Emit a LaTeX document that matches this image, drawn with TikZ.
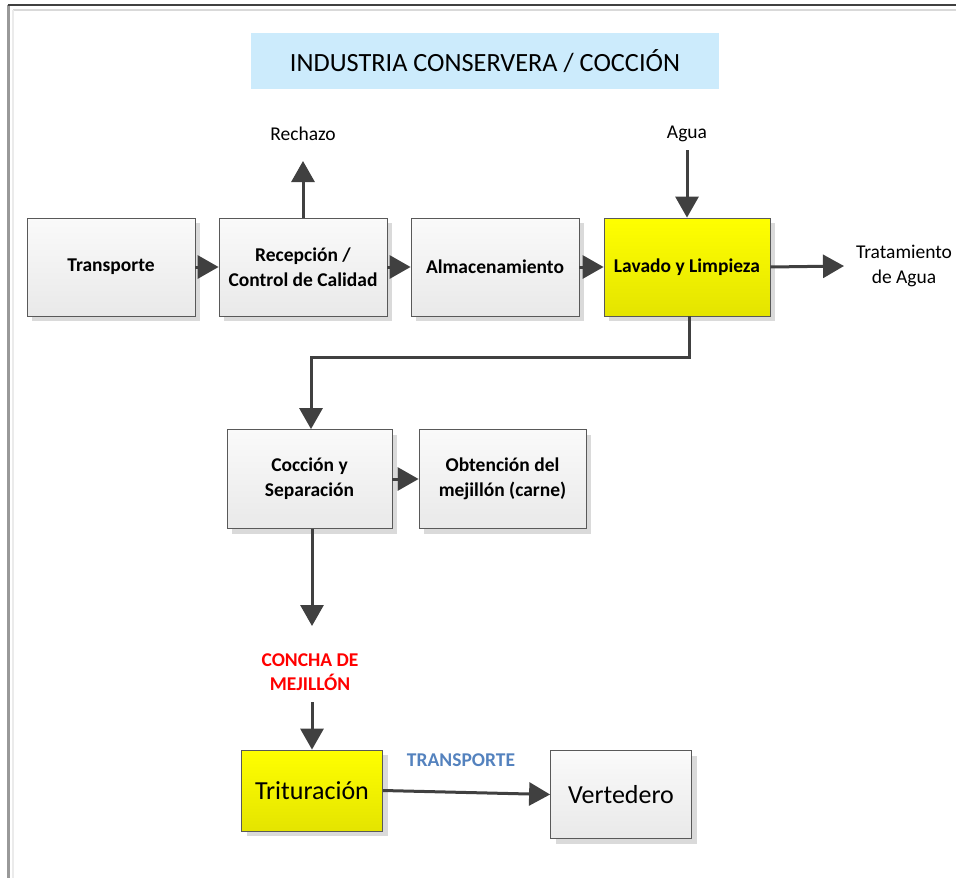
\documentclass[tikz,border=0pt]{standalone}
\usepackage{fontspec}
\setmainfont{Carlito}
\usetikzlibrary{arrows.meta,shadows}
\definecolor{arrc}{HTML}{404040}
\definecolor{edgec}{HTML}{595959}
\definecolor{boxtop}{HTML}{FAFAFA}
\definecolor{boxbot}{HTML}{E9E9E9}
\definecolor{yeltop}{HTML}{FFFF00}
\definecolor{yelbot}{HTML}{E4E400}
\definecolor{titleblue}{HTML}{CCEBFC}
\definecolor{shadowc}{HTML}{DADADA}
\definecolor{conchared}{HTML}{FF0000}
\definecolor{transblue}{HTML}{5482BE}
\tikzset{
  basefont/.style={font=\fontsize{19.5}{25}\selectfont},
  procbox/.style={basefont, draw=edgec, line width=0.8pt, inner sep=0pt, align=center,
    top color=boxtop, bottom color=boxbot,
    drop shadow={shadow xshift=5pt, shadow yshift=-5pt, fill=shadowc, opacity=1}},
  yelbox/.style={procbox, top color=yeltop, bottom color=yelbot},
  lbl/.style={basefont, inner sep=0pt, align=center},
  arr/.style={draw=arrc, line width=3pt, -{Triangle[length=21pt,width=23pt]}}
}
\begin{document}
\begin{tikzpicture}[x=1pt,y=-1pt]
\useasboundingbox (0,0) rectangle (956,878);
% frame
\draw[color=black!15, line width=1.5pt] (13,10) -- (956,10);
\draw[color=black!8, line width=2pt] (13,10) -- (13,878);
\draw[color=black!40, line width=2.5pt] (8.5,5) -- (8.5,878);
\draw[color=arrc, line width=1.5pt] (7.5,5) -- (956,5);
% title
\node[fill=titleblue, minimum width=468pt, minimum height=56pt, inner sep=0pt,
  font=\fontsize{26.3}{30}\selectfont] (title) at (485,61) {INDUSTRIA CONSERVERA / COCCIÓN};
% boxes
\node[procbox, minimum width=168pt, minimum height=98pt] (tra) at (111,267) {\bfseries Transporte};
\node[procbox, minimum width=168pt, minimum height=98pt] (rec) at (303,267) {\bfseries Recepción /\\\bfseries Control de Calidad};
\node[procbox, minimum width=168pt, minimum height=98pt] (alm) at (495,267) {\bfseries Almacenamiento};
\node[yelbox, minimum width=166pt, minimum height=98pt] (lav) at (687,267) {\bfseries Lavado y Limpieza};
\node[procbox, minimum width=165pt, minimum height=99pt] (coc) at (309.5,479) {\bfseries Cocción y\\\bfseries Separación};
\node[procbox, minimum width=167pt, minimum height=99pt] (obt) at (502.5,479) {\bfseries Obtención del\\\bfseries mejillón (carne)};
\node[yelbox, minimum width=141pt, minimum height=81pt, font=\fontsize{26}{30}\selectfont] (tri) at (312,790.5) {Trituración};
\node[procbox, minimum width=141pt, minimum height=88pt, font=\fontsize{26}{30}\selectfont] (ver) at (621,794.5) {Vertedero};
% labels
\node[lbl] (rech) at (303,134) {Rechazo};
\node[lbl] (agua) at (687,134) {Agua};
\node[lbl] (trat) at (904,265.5) {Tratamiento\\de Agua};
\node[lbl, text=conchared, font=\bfseries\fontsize{19.5}{24}\selectfont] (concha) at (310,672) {CONCHA DE\\MEJILLÓN};
\node[lbl, text=transblue, font=\bfseries\fontsize{19.5}{24}\selectfont] (transp) at (461,760) {TRANSPORTE};
% free ends
\coordinate (rechtip) at (303,161);
\coordinate (aguastart) at (687,150);
\coordinate (trattip) at (844,266);
\coordinate (elbow) at (689,357);
\coordinate (concatip) at (312,626);
\coordinate (conchastart) at (312,702);
% connectors
\draw[arr] (tra.east) -- (rec.west);
\draw[arr] (rec.east) -- (alm.west);
\draw[arr] (alm.east) -- (lav.west);
\draw[arr] (rec.north) -- (rechtip);
\draw[arr] (aguastart) -- (lav.north);
\draw[arr] (lav.east) -- (trattip);
\draw[arr] (lav.south -| elbow) -- (elbow) -| ([xshift=1.5pt]coc.north);
\draw[arr] (coc.east) -- (obt.west);
\draw[arr] (coc.south -| concatip) -- (concatip);
\draw[arr] (conchastart) -- (tri.north -| conchastart);
\draw[arr] (tri.east) -- (ver.west);
\end{tikzpicture}
\end{document}
